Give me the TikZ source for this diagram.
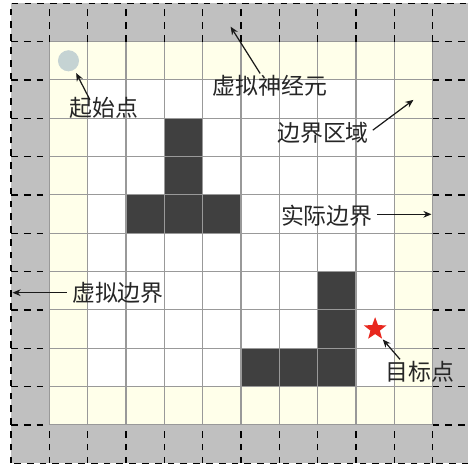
\documentclass[tikz,border=0pt]{standalone}
\usepackage{fontspec}
\newfontfamily\cjk{Noto Sans CJK SC}
\usetikzlibrary{shapes.geometric,arrows.meta}
\definecolor{ringgray}{HTML}{C0C0C0}
\definecolor{edgeyellow}{HTML}{FFFFEA}
\definecolor{obst}{HTML}{404040}
\definecolor{startc}{HTML}{C5D3D3}
\definecolor{goalc}{HTML}{E8271E}
\definecolor{gridc}{HTML}{999999}
\tikzset{
  lbl/.style={font=\cjk\fontsize{17}{20}\selectfont, text=black!85, inner sep=0pt},
  arr/.style={-{Stealth[length=6pt,width=5pt]}, line width=0.9pt, black!90},
  ringdash/.style={black, line width=0.9pt, dash pattern=on 5pt off 4.5pt},
  cellfill/.style={fill=obst, draw=none}
}
\begin{document}
\begin{tikzpicture}[x=1cm,y=1cm]
\useasboundingbox (-0.287,-0.07) rectangle (11.923,12.086);
% regions
\fill[ringgray] (0,0) rectangle (12,12);
\fill[edgeyellow] (1,1) rectangle (11,11);
\fill[white] (2,2) rectangle (10,10);
% obstacles
\fill[cellfill] (4,7) rectangle (5,9);
\fill[cellfill] (3,6) rectangle (6,7);
\fill[cellfill] (8,2) rectangle (9,5);
\fill[cellfill] (6,2) rectangle (8,3);
% inner grid
\draw[gridc, line width=0.8pt] (1,1) grid (11,11);
% ring dashed lines
\foreach \i in {1,...,11} {
  \draw[ringdash] (\i,11) -- (\i,12);
  \draw[ringdash] (\i,0) -- (\i,1);
  \draw[ringdash] (0,\i) -- (1,\i);
  \draw[ringdash] (11,\i) -- (12,\i);
}
\draw[ringdash] (0,0) rectangle (12,12);
% start and goal
\node[circle, fill=startc, minimum size=0.55cm, inner sep=0pt] (start) at (1.5,10.5) {};
\node[star, star points=5, star point ratio=2.4, fill=goalc, minimum size=0.62cm, inner sep=0pt] (goal) at (9.5,3.5) {};
% labels
\node[lbl] (tstart) at (2.43,9.27) {起始点};
\node[lbl] (tneuron) at (6.76,9.84) {虚拟神经元};
\node[lbl] (tedge) at (8.14,8.615) {边界区域};
\node[lbl] (treal) at (8.24,6.45) {实际边界};
\node[lbl] (tvirt) at (2.79,4.44) {虚拟边界};
\node[lbl] (tgoal) at (10.67,2.38) {目标点};
% arrow end points
\coordinate (a1) at (2.06,9.48);  \coordinate (b1) at (1.70,10.18);
\coordinate (a2) at (6.50,10.17); \coordinate (b2) at (5.73,11.39);
\coordinate (a3) at (9.44,8.69);  \coordinate (b3) at (10.50,9.48);
\coordinate (a4) at (9.56,6.495); \coordinate (b4) at (10.97,6.495);
\coordinate (a5) at (1.45,4.45);  \coordinate (b5) at (0.04,4.45);
\coordinate (a6) at (10.15,2.71); \coordinate (b6) at (9.70,3.23);
\draw[arr] (a1) -- (b1);
\draw[arr] (a2) -- (b2);
\draw[arr] (a3) -- (b3);
\draw[arr] (a4) -- (b4);
\draw[arr] (a5) -- (b5);
\draw[arr] (a6) -- (b6);
\end{tikzpicture}
\end{document}
